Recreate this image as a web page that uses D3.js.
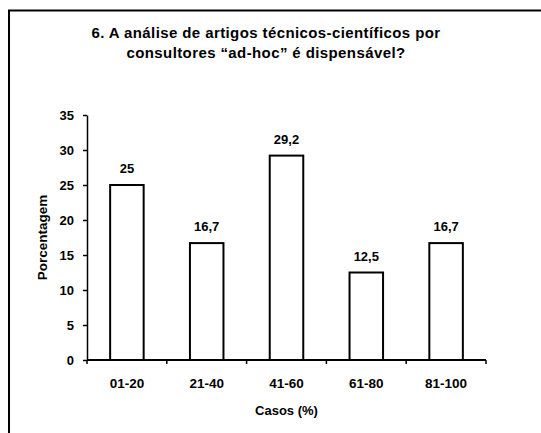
<!DOCTYPE html>
<html lang="pt">
<head>
  <meta charset="UTF-8">
  <title>Casos (%)</title>
  <style>
    body { margin: 0; background: #fff; }
    text { font-family: "Liberation Sans", Arial, sans-serif; font-weight: bold; fill: #000; }
  </style>
</head>
<body>
<script src="https://d3js.org/d3.v7.min.js"></script>
<script>
  // dados
  var categories = ["01-20", "21-40", "41-60", "61-80", "81-100"];
  var values = [25, 16.7, 29.2, 12.5, 16.7];
  var yTicks = [0, 5, 10, 15, 20, 25, 30, 35];
  var titleLines = ["6. A análise de artigos técnicos-científicos por", "consultores \u201cad-hoc\u201d é dispensável?"];

  var W = 541, H = 433;
  var margin = { top: 115, left: 87, right: 55, bottom: 73 };
  var width = W - margin.left - margin.right,
    height = H - margin.top - margin.bottom;

  var root = d3.select("body").append("svg")
    .attr("width", W)
    .attr("height", H);

  // moldura (só topo e lado esquerdo visíveis)
  root.append("path")
    .attr("d", "M9,433 V10.5 H541")
    .attr("fill", "none")
    .attr("stroke", "#000")
    .attr("stroke-width", 2);

  root.selectAll("text.title")
    .data(titleLines)
    .enter()
    .append("text")
    .attr("class", "title")
    .attr("x", 266)
    .attr("y", function(d, i) { return 38 + i * 20; })
    .attr("text-anchor", "middle")
    .style("font-size", "15px")
    .style("letter-spacing", "0.4px")
    .text(function(d) { return d; });

  var svg = root.append("g")
    .attr("transform", "translate(" + margin.left + "," + margin.top + ")");

  var x = d3.scaleBand()
    .domain(categories)
    .range([0, width])
    .paddingInner(0.58)
    .paddingOuter(0.29);

  var y = d3.scaleLinear()
    .domain([0, 35])
    .range([height, 0]);

  var yAxis = d3.axisLeft(y)
    .tickValues(yTicks)
    .tickSize(4)
    .tickPadding(9)
    .tickFormat(d3.format("d"));

  svg.append("g")
    .attr("class", "y axis")
    .call(yAxis)
    .call(function(g) {
      g.select(".domain").attr("stroke-width", 1.5).attr("d", "M0.5," + height + "V0.5");
      g.selectAll(".tick line").attr("stroke-width", 1.5);
      g.selectAll(".tick text").style("font-size", "13px").style("font-family", "Liberation Sans, Arial, sans-serif").style("font-weight", "bold");
    });

  // eixo x: marcas entre as categorias
  var boundaries = d3.range(categories.length + 1).map(function(i) {
    return i === categories.length ? width : x.step() * i;
  });

  svg.append("line")
    .attr("x1", 0).attr("x2", width)
    .attr("y1", height).attr("y2", height)
    .attr("stroke", "#000")
    .attr("stroke-width", 2);

  svg.selectAll("line.xtick")
    .data(boundaries)
    .enter()
    .append("line")
    .attr("class", "xtick")
    .attr("x1", function(d) { return d; })
    .attr("x2", function(d) { return d; })
    .attr("y1", height)
    .attr("y2", height + 4)
    .attr("stroke", "#000")
    .attr("stroke-width", 1.5);

  svg.selectAll("text.cat")
    .data(categories)
    .enter()
    .append("text")
    .attr("class", "cat")
    .attr("x", function(d) { return x(d) + x.bandwidth() / 2; })
    .attr("y", height + 28)
    .attr("text-anchor", "middle")
    .style("font-size", "13.5px")
    .text(function(d) { return d; });

  svg.selectAll("rect.bar")
    .data(values)
    .enter()
    .append("rect")
    .attr("class", "bar")
    .attr("x", function(d, i) { return x(categories[i]); })
    .attr("y", function(d) { return y(d); })
    .attr("width", x.bandwidth())
    .attr("height", function(d) { return height - y(d); })
    .attr("fill", "#fff")
    .attr("stroke", "#000")
    .attr("stroke-width", 2);

  svg.selectAll("text.val")
    .data(values)
    .enter()
    .append("text")
    .attr("class", "val")
    .attr("x", function(d, i) { return x(categories[i]) + x.bandwidth() / 2; })
    .attr("y", function(d) { return y(d) - 12; })
    .attr("text-anchor", "middle")
    .style("font-size", "13px")
    .text(function(d) { return String(d).replace(".", ","); });

  svg.append("text")
    .attr("x", width / 2)
    .attr("y", height + 55)
    .attr("text-anchor", "middle")
    .style("font-size", "13px")
    .text("Casos (%)");

  svg.append("text")
    .attr("transform", "translate(-40," + (height / 2) + ") rotate(-90)")
    .attr("text-anchor", "middle")
    .style("font-size", "13.5px")
    .text("Porcentagem");
</script>
</body>
</html>
